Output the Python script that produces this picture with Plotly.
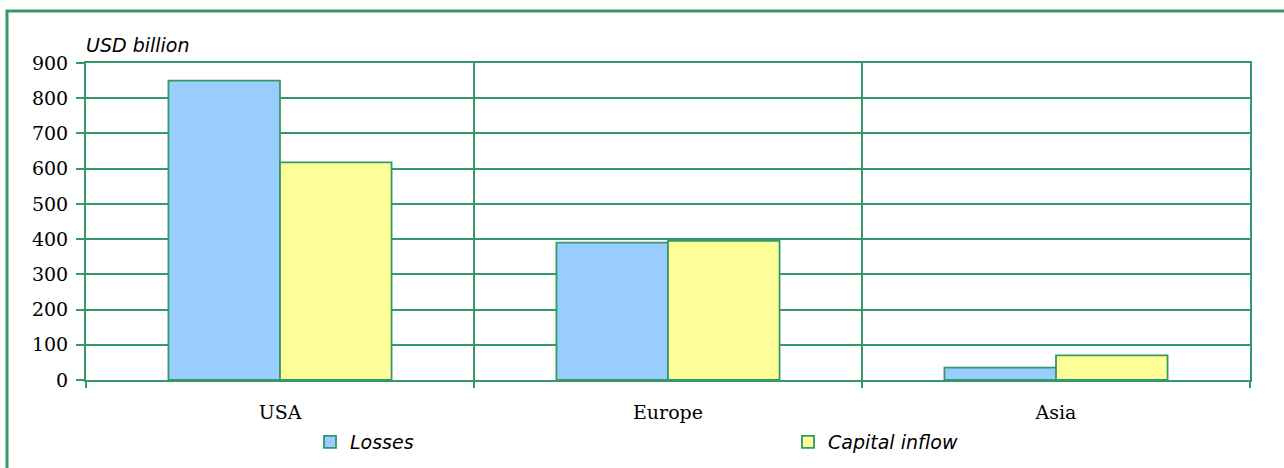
import plotly.graph_objects as go

categories = ["USA", "Europe", "Asia"]
losses = [850, 390, 35]
capital_inflow = [618, 395, 70]
y_ticks = [0, 100, 200, 300, 400, 500, 600, 700, 800, 900]

GREEN = "#339966"
W, H = 1284, 468
L, R, T, B = 86, 34, 63, 88
pw, ph = W - L - R, H - T - B

def px2x(p):
    return (p - L) / pw

def px2y(p):
    return 1 - (p - T) / ph

fig = go.Figure()
fig.add_trace(go.Bar(name="Losses", x=categories, y=losses, legend="legend",
                     marker=dict(color="#99CCFF", line=dict(color=GREEN, width=1.8))))
fig.add_trace(go.Bar(name="Capital inflow", x=categories, y=capital_inflow, legend="legend2",
                     marker=dict(color="#FFFF99", line=dict(color=GREEN, width=1.8))))

legfont = dict(family="DejaVu Sans", size=19, color="black", style="italic")

fig.update_layout(
    width=W, height=H,
    margin=dict(l=L, r=R, t=T, b=B, autoexpand=False),
    paper_bgcolor="white", plot_bgcolor="white",
    barmode="group", bargap=0.425, bargroupgap=0,
    showlegend=True,
    legend=dict(x=px2x(310), y=px2y(442), xanchor="left", yanchor="middle",
                font=legfont, bgcolor="rgba(0,0,0,0)"),
    legend2=dict(x=px2x(788), y=px2y(442), xanchor="left", yanchor="middle",
                 font=legfont, bgcolor="rgba(0,0,0,0)"),
    xaxis=dict(tickson="boundaries", showgrid=True, gridcolor=GREEN, gridwidth=2,
               ticks="outside", ticklen=6, tickcolor=GREEN, tickwidth=2,
               showline=True, linecolor=GREEN, linewidth=2, mirror=True,
               ticklabelstandoff=14,
               tickfont=dict(family="DejaVu Serif", size=19, color="black")),
    yaxis=dict(range=[0, 900], tickvals=y_ticks, showgrid=True, gridcolor=GREEN, gridwidth=2,
               ticks="outside", ticklen=8, tickcolor=GREEN, tickwidth=2,
               showline=True, linecolor=GREEN, linewidth=2, mirror=True, zeroline=False,
               ticklabelstandoff=4,
               tickfont=dict(family="DejaVu Serif", size=19, color="black")),
    annotations=[dict(text="USD billion", x=px2x(84), y=px2y(45), xref="paper", yref="paper",
                      xanchor="left", yanchor="middle", showarrow=False,
                      font=dict(family="DejaVu Sans", size=19, color="black", style="italic"))],
    shapes=[dict(type="rect", xref="paper", yref="paper",
                 x0=px2x(7), x1=px2x(1300), y0=px2y(490), y1=px2y(11),
                 line=dict(color=GREEN, width=3), fillcolor="rgba(0,0,0,0)", layer="below")],
)

fig.write_html("out.html")
